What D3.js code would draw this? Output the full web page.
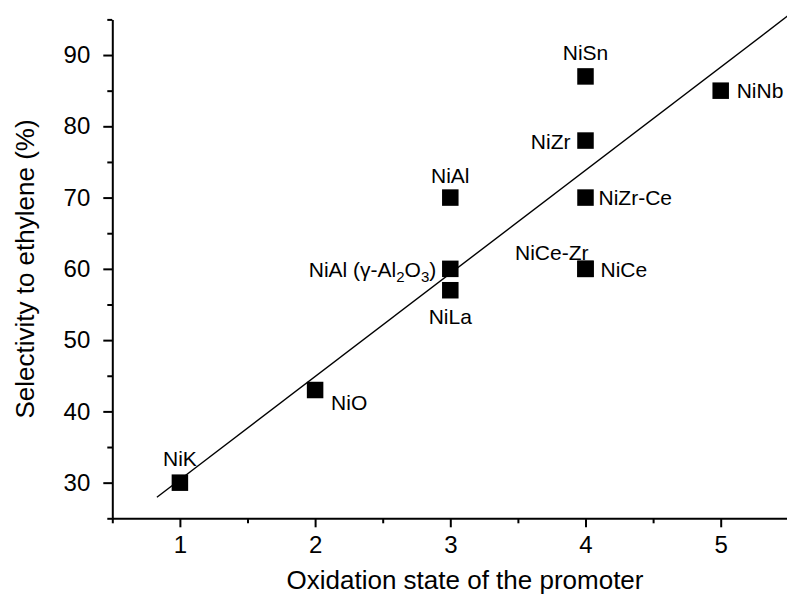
<!DOCTYPE html>
<html>
<head>
<meta charset="utf-8">
<script src="https://cdn.jsdelivr.net/npm/d3@7"></script>
<style>
  html, body { margin: 0; padding: 0; background: #fff; }
  svg { display: block; }
  text { font-family: "Liberation Sans", Arial, Helvetica, sans-serif; fill: #000; }
</style>
</head>
<body>
<svg id="chart" width="787" height="603"></svg>
<script>
// Catalysts: promoter oxidation state vs. selectivity to ethylene (%)
const catalysts   = ["NiK", "NiO", "NiAl", "NiAl (γ-Al2O3)", "NiLa", "NiSn", "NiZr", "NiZr-Ce", "NiCe", "NiCe-Zr", "NiNb"];
const oxidation   = [1, 2, 3, 3, 3, 4, 4, 4, 4, 4, 5];
const selectivity = [30, 43, 70, 60, 57, 87, 78, 70, 60, 60, 85];

// Linear trend line end points (oxidation state, selectivity)
const trendX = [0.83, 5.5];
const trendY = [27.95, 95.55];

// Axis ticks
const xMajorTicks = [1, 2, 3, 4, 5];
const xMinorTicks = [0.5, 1.5, 2.5, 3.5, 4.5, 5.5];
const yMajorTicks = [30, 40, 50, 60, 70, 80, 90];
const yMinorTicks = [25, 35, 45, 55, 65, 75, 85, 95];

const xDomain = [0.5, 5.5];
const yDomain = [25, 95];

// Label placement around each marker: anchor, dx, dy (px from marker centre)
const labelPlacement = {
  "NiK":            ["middle", 0, -17],
  "NiO":            ["start", 16, 20],
  "NiAl":           ["middle", 0, -15],
  "NiAl (γ-Al2O3)": ["end", -14, 8],
  "NiLa":           ["middle", 0, 34],
  "NiSn":           ["middle", 0, -16],
  "NiZr":           ["end", -15, 8],
  "NiZr-Ce":        ["start", 13, 7],
  "NiCe":           ["start", 15, 8],
  "NiCe-Zr":        ["end", 3, -9],
  "NiNb":           ["start", 16, 7]
};

const svg = d3.select("#chart");
const plotLeft = 112.3, plotRight = 788.3, plotTop = 19.4, plotBottom = 518.3;

const x = d3.scaleLinear().domain(xDomain).range([plotLeft, plotRight]);
const y = d3.scaleLinear().domain(yDomain).range([plotBottom, plotTop]);

// X axis
const gx = svg.append("g").attr("transform", `translate(0,${plotBottom})`);
gx.call(d3.axisBottom(x).tickValues(xMajorTicks).tickSize(9).tickSizeOuter(0).tickPadding(9).tickFormat(d3.format("d")));
gx.append("g").call(d3.axisBottom(x).tickValues(xMinorTicks).tickSize(5).tickSizeOuter(0).tickFormat(""))
  .select(".domain").remove();

// Y axis
const gy = svg.append("g").attr("transform", `translate(${plotLeft},0)`);
gy.call(d3.axisLeft(y).tickValues(yMajorTicks).tickSize(9).tickSizeOuter(0).tickPadding(13).tickFormat(d3.format("d")));
gy.append("g").call(d3.axisLeft(y).tickValues(yMinorTicks).tickSize(5).tickSizeOuter(0).tickFormat(""))
  .select(".domain").remove();

svg.selectAll(".domain").attr("stroke", "#000").attr("stroke-width", 2);
svg.selectAll(".tick line").attr("stroke", "#000").attr("stroke-width", 2);
svg.selectAll(".tick text").attr("font-size", 24).attr("fill", "#000")
  .attr("font-family", "'Liberation Sans', Arial, sans-serif");

// Axis titles
svg.append("text")
  .attr("x", 465).attr("y", 589)
  .attr("text-anchor", "middle").attr("font-size", 26)
  .text("Oxidation state of the promoter");

svg.append("text")
  .attr("transform", "translate(34,269) rotate(-90)")
  .attr("text-anchor", "middle").attr("font-size", 26)
  .text("Selectivity to ethylene (%)");

// Trend line
const line = d3.line().x(d => x(d[0])).y(d => y(d[1]));
svg.append("path")
  .datum(d3.zip(trendX, trendY))
  .attr("d", line)
  .attr("fill", "none").attr("stroke", "#000").attr("stroke-width", 1.4);

// Markers
const pts = catalysts.map((name, i) => ({ name, ox: oxidation[i], sel: selectivity[i] }));
const sq = 16.5;
svg.append("g").selectAll("rect").data(pts).join("rect")
  .attr("x", d => x(d.ox) - sq / 2)
  .attr("y", d => y(d.sel) - sq / 2)
  .attr("width", sq).attr("height", sq)
  .attr("fill", "#000");

// Labels
const labels = svg.append("g").attr("font-size", 21);
pts.forEach(d => {
  const [anchor, dx, dy] = labelPlacement[d.name];
  const t = labels.append("text")
    .attr("x", x(d.ox) + dx).attr("y", y(d.sel) + dy)
    .attr("text-anchor", anchor);
  if (d.name === "NiAl (γ-Al2O3)") {
    t.append("tspan").text("NiAl (γ-Al");
    t.append("tspan").attr("font-size", 15).attr("dy", 5).text("2");
    t.append("tspan").attr("dy", -5).text("O");
    t.append("tspan").attr("font-size", 15).attr("dy", 5).text("3");
    t.append("tspan").attr("dy", -5).text(")");
  } else {
    t.text(d.name);
  }
});
</script>
</body>
</html>
